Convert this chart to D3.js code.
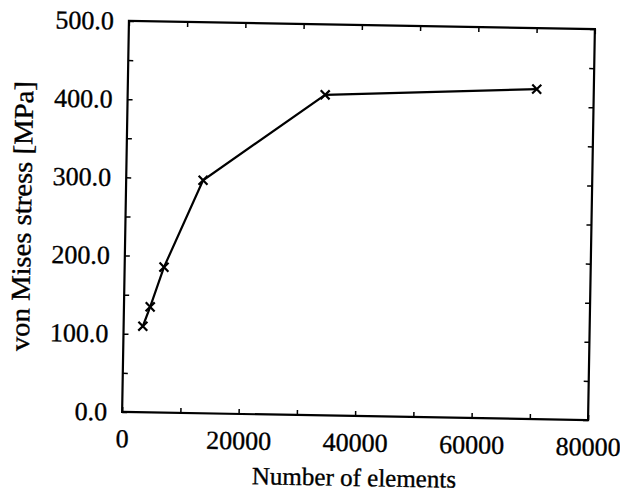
<!DOCTYPE html>
<html>
<head>
<meta charset="utf-8">
<script src="https://cdn.jsdelivr.net/npm/d3@7"></script>
<style>
  body { margin: 0; background: #ffffff; }
  text { font-family: "Liberation Serif", "Times New Roman", serif; fill: #000; stroke: #000; stroke-width: 0.35px; }
</style>
</head>
<body>
<div id="chart"></div>
<script>
/* DATA */
const elements = [3300, 4500, 6750, 13200, 33900, 70200];
const stress = [110, 135, 186, 298, 410, 422];
const xTickLabels = [0, 20000, 40000, 60000, 80000];
const yTickLabels = [0, 100, 200, 300, 400, 500];
const xMinorTicks = [0, 10000, 20000, 30000, 40000, 50000, 60000, 70000, 80000];
const yMinorTicks = [0, 50, 100, 150, 200, 250, 300, 350, 400, 450, 500];

/* CONSTANTS */
const width = 620,
  height = 498,
  margin = { top: 25, right: 28.5, bottom: 82, left: 125.5 };

const data = elements.map((d, i) => ({ n: d, s: stress[i] }));

/* SCALES */
const xScale = d3.scaleLinear()
  .domain([0, 80000])
  .range([margin.left, width - margin.right]);

const yScale = d3.scaleLinear()
  .domain([0, 500])
  .range([height - margin.bottom, margin.top]);

/* SVG */
const svg = d3.select("#chart")
  .append("svg")
  .attr("width", width)
  .attr("height", height)
  .style("background-color", "#ffffff");

// the scanned figure is tilted slightly clockwise
const g = svg.append("g")
  .attr("transform", "rotate(1, 358, 220.5)");

/* AXES */
const tickLen = 5;

// bottom
g.append("g")
  .attr("class", "x-axis")
  .attr("transform", `translate(0,${height - margin.bottom})`)
  .call(d3.axisBottom(xScale)
    .tickValues(xMinorTicks)
    .tickSize(-tickLen)
    .tickPadding(17)
    .tickFormat(d => xTickLabels.includes(d) ? d : ""))
  .call(ax => ax.select(".domain").remove())
  .call(ax => ax.selectAll("text").style("font-size", "26px"));

// top
g.append("g")
  .attr("transform", `translate(0,${margin.top})`)
  .call(d3.axisTop(xScale).tickValues(xMinorTicks).tickSize(-tickLen).tickFormat(""))
  .call(ax => ax.select(".domain").remove());

// left
g.append("g")
  .attr("class", "y-axis")
  .attr("transform", `translate(${margin.left},0)`)
  .call(d3.axisLeft(yScale)
    .tickValues(yMinorTicks)
    .tickSize(-tickLen)
    .tickPadding(15)
    .tickFormat(d => yTickLabels.includes(d) ? d.toFixed(1) : ""))
  .call(ax => ax.select(".domain").remove())
  .call(ax => ax.selectAll("text").style("font-size", "26px"));

// right
g.append("g")
  .attr("transform", `translate(${width - margin.right},0)`)
  .call(d3.axisRight(yScale).tickValues(yMinorTicks).tickSize(-tickLen).tickFormat(""))
  .call(ax => ax.select(".domain").remove());

g.selectAll(".tick line")
  .attr("stroke", "#000")
  .attr("stroke-width", 1.5);

// frame
g.append("rect")
  .attr("x", xScale(0))
  .attr("y", yScale(500))
  .attr("width", xScale(80000) - xScale(0))
  .attr("height", yScale(0) - yScale(500))
  .attr("fill", "none")
  .attr("stroke", "#000")
  .attr("stroke-width", 2.2);

/* AXIS TITLES */
g.append("text")
  .attr("x", (xScale(0) + xScale(80000)) / 2)
  .attr("y", 486)
  .style("text-anchor", "middle")
  .style("font-size", "25px")
  .text("Number of elements");

g.append("text")
  .attr("transform", "rotate(-90)")
  .attr("x", -222)
  .attr("y", 31)
  .style("text-anchor", "middle")
  .style("font-size", "27px")
  .attr("textLength", 270)
  .attr("lengthAdjust", "spacingAndGlyphs")
  .text("von Mises stress [MPa]");

/* LINE */
const lineGen = d3.line()
  .x(d => xScale(d.n))
  .y(d => yScale(d.s));

g.append("path")
  .datum(data)
  .attr("fill", "none")
  .attr("stroke", "#000")
  .attr("stroke-width", 2.2)
  .attr("d", lineGen);

/* MARKERS */
const m = 4.5;
g.selectAll(".marker")
  .data(data)
  .join("path")
  .attr("class", "marker")
  .attr("fill", "none")
  .attr("stroke", "#000")
  .attr("stroke-width", 2.2)
  .attr("d", d => {
    const cx = xScale(d.n), cy = yScale(d.s);
    return `M${cx - m},${cy - m}L${cx + m},${cy + m}M${cx - m},${cy + m}L${cx + m},${cy - m}`;
  });
</script>
</body>
</html>
